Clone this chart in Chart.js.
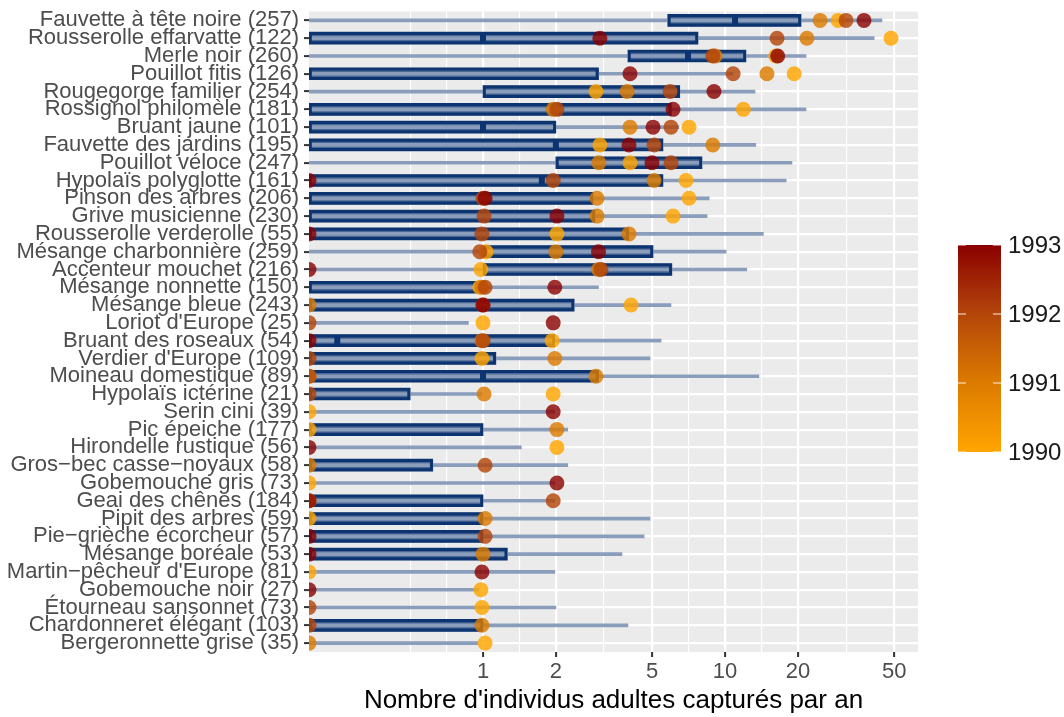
<!DOCTYPE html>
<html>
<head>
<meta charset="utf-8">
<script src="https://cdn.jsdelivr.net/npm/chart.js@4/dist/chart.umd.min.js"></script>
<style>
  html, body { margin: 0; padding: 0; background: #ffffff; }
  #chart { display: block; }
</style>
</head>
<body>
<canvas id="chart" width="1064" height="717"></canvas>
<script>
// Species (top to bottom) with number of captures
const species = [
    'Fauvette à tête noire (257)', 'Rousserolle effarvatte (122)', 'Merle noir (260)',
    'Pouillot fitis (126)', 'Rougegorge familier (254)', 'Rossignol philomèle (181)',
    'Bruant jaune (101)', 'Fauvette des jardins (195)', 'Pouillot véloce (247)',
    'Hypolaïs polyglotte (161)', 'Pinson des arbres (206)', 'Grive musicienne (230)',
    'Rousserolle verderolle (55)', 'Mésange charbonnière (259)', 'Accenteur mouchet (216)',
    'Mésange nonnette (150)', 'Mésange bleue (243)', "Loriot d'Europe (25)",
    'Bruant des roseaux (54)', "Verdier d'Europe (109)", 'Moineau domestique (89)',
    'Hypolaïs ictérine (21)', 'Serin cini (39)', 'Pic épeiche (177)',
    'Hirondelle rustique (56)', 'Gros\u2212bec casse\u2212noyaux (58)', 'Gobemouche gris (73)',
    'Geai des chênes (184)', 'Pipit des arbres (59)', 'Pie\u2212grièche écorcheur (57)',
    'Mésange boréale (53)', "Martin\u2212pêcheur d'Europe (81)", 'Gobemouche noir (27)',
    'Étourneau sansonnet (73)', 'Chardonneret élégant (103)', 'Bergeronnette grise (35)'
];

// range line (from 0 to max), box (lo..hi), median; 0 = drawn at the left edge
const lineMax = [44.5, 41.3, 21.6, 10.8, 13.3, 21.6, 6.45, 13.4, 18.9, 17.9, 8.6, 8.43,
    14.4, 10.1, 12.3, 3.0, 5.98, 0.87, 5.44, 4.9, 13.8, 0.99, 1.98, 2.24,
    1.44, 2.24, 1.98, 1.98, 4.9, 4.63, 3.75, 1.98, 0.96, 2.0, 3.97, 0.95];
const boxLo = [5.8, 0, 3.97, 0, 1, 0, 0, 0, 2, 0, 0, 0,
    0, 1, 1, 0, 0, null, 0, 0, 0, 0, null, 0,
    null, 0, null, 0, 0, 0, 0, null, null, null, 0, null];
const boxHi = [20.6, 7.73, 12.2, 3.0, 6.5, 6.0, 2.0, 5.54, 8.03, 5.54, 2.85, 2.9,
    4.0, 5.04, 6.03, 0.99, 2.38, null, 1.98, 1.13, 3.0, 0.5, null, 1.0,
    null, 0.62, null, 1.0, 1.0, 1.0, 1.26, null, null, null, 1.0, null];
const medians = [11.0, 1.0, 7.03, null, null, null, 1.0, 2.0, null, 1.75, null, null,
    null, null, null, null, null, null, 0.25, null, 1.0, null, null, null,
    null, null, null, null, null, null, null, null, null, null, null, null];

// yearly counts
const v1990 = [29.3, 48.5, 16.2, 19.3, 2.93, 11.9, 7.1, 3.04, 4.05, 6.9, 7.1, 6.1,
    2.02, 1.03, 0.98, 0.97, 4.09, 1.0, 1.93, 0.99, 0, 1.95, 0, 0,
    2.02, null, 0, 0, 0, null, null, 0, 0.98, 0.99, null, 1.02];
const v1991 = [24.7, 21.8, 9.1, 14.9, 3.94, 1.95, 4.05, 8.9, 3.01, 5.09, 2.96, 2.96,
    4.01, 2.0, 3.0, 0.99, 0, null, 0.99, 1.98, 2.93, 1.01, null, 2.02,
    null, 0, null, null, 1.02, null, 1.0, null, null, null, 0.99, 0];
const v1992 = [31.6, 16.4, 8.9, 10.8, 5.93, 2.02, 5.98, 5.09, 5.98, 1.95, 1.0, 1.01,
    0.99, 0.97, 3.07, 1.02, 1.0, 0, 1.0, 0, 0, 0, null, null,
    null, 1.02, null, 1.95, null, 1.02, null, null, null, 0, 0, null];
const v1993 = [37.5, 3.04, 16.5, 4.05, 9.0, 6.1, 5.04, 4.01, 4.99, 0, 1.02, 2.02,
    0, 3.0, 0, 1.98, 1.0, 1.95, 0, null, null, null, 1.95, null,
    0, null, 2.02, 0, null, 0, 0, 0.99, 0, null, null, null];

const years = [1990, 1991, 1992, 1993];
const yearColors = ['#FFA500', '#DC7B00', '#B4460A', '#8B0000'];
const yearAlpha = ['rgba(255,165,0,0.82)', 'rgba(220,123,0,0.82)', 'rgba(180,70,10,0.82)', 'rgba(139,0,0,0.8)'];

const xMajor = [1, 2, 5, 10, 20, 50];
const xMin = 0.191, xMax = 62.7;

const FONT = "'Liberation Sans', Arial, Helvetica, sans-serif";

function atEdge(v) { return v === 0 ? xMin : v; }

function points(values) {
    const out = [];
    values.forEach(function(v, i) {
        if (v !== null) out.push({ x: atEdge(v), y: species[i] });
    });
    return out;
}

// minor grid: midpoints (in log space) between majors, plus one step below
const xGrid = [0.5].concat(xMajor);
const xMinor = [0.5];
for (let i = 0; i < xGrid.length - 1; i++) xMinor.push(Math.sqrt(xGrid[i] * xGrid[i + 1]));
const allXTicks = xMinor.concat(xMajor).sort(function(a, b) { return a - b; });
function isMajor(v) { return xMajor.some(function(m) { return Math.abs(m - v) < 1e-9; }); }

const boxData = boxHi.map(function(h, i) { return h === null ? null : [atEdge(boxLo[i]), h]; });
const lineData = lineMax.map(function(m) { return [xMin, m]; });

const datasets = [];
// yearly points, 1993 on top
years.slice().reverse().forEach(function(yr, k) {
    const idx = years.indexOf(yr);
    const vals = [v1990, v1991, v1992, v1993][idx];
    datasets.push({
        type: 'line',
        label: String(yr),
        data: points(vals),
        showLine: false,
        pointRadius: 7.5,
        pointHoverRadius: 7.5,
        pointBorderWidth: 0,
        pointBackgroundColor: yearAlpha[idx],
        order: 1 + k
    });
});
datasets.push({
    type: 'line',
    label: 'median',
    data: points(medians),
    showLine: false,
    pointStyle: 'line',
    pointRotation: 90,
    pointRadius: 5.5,
    pointBorderWidth: 6,
    pointBorderColor: '#0B3470',
    order: 6
});
datasets.push({
    type: 'bar',
    label: 'box border',
    data: boxData,
    backgroundColor: 'rgba(0,0,0,0)',
    borderColor: '#0B3470',
    borderWidth: 2.5,
    borderSkipped: false,
    barThickness: 12,
    grouped: false,
    order: 7
});
datasets.push({
    type: 'bar',
    label: 'range',
    data: lineData,
    backgroundColor: '#8A9DBB',
    borderWidth: 0,
    barThickness: 3,
    grouped: false,
    order: 8
});
datasets.push({
    type: 'bar',
    label: 'box',
    data: boxData,
    backgroundColor: '#4A6795',
    borderWidth: 0,
    barThickness: 12,
    grouped: false,
    order: 9
});

const panelPlugin = {
    id: 'panel',
    beforeDraw: function(chart) {
        const a = chart.chartArea, ctx = chart.ctx;
        ctx.save();
        ctx.fillStyle = '#EBEBEB';
        ctx.fillRect(a.left, a.top, a.right - a.left, a.bottom - a.top);
        ctx.restore();
    },
    afterDraw: function(chart) {
        // colour bar legend
        const ctx = chart.ctx;
        const x0 = 958, w = 43, top = 245, bottom = 452;
        const g = ctx.createLinearGradient(0, bottom, 0, top);
        yearColors.forEach(function(c, i) { g.addColorStop(i / (yearColors.length - 1), c); });
        ctx.save();
        ctx.fillStyle = g;
        ctx.fillRect(x0, top, w, bottom - top);
        ctx.strokeStyle = 'rgba(255,255,255,0.9)';
        ctx.lineWidth = 1;
        ctx.font = '24px ' + FONT;
        ctx.fillStyle = '#1A1A1A';
        ctx.textBaseline = 'middle';
        ctx.textAlign = 'left';
        years.forEach(function(yr, i) {
            const y = bottom - (bottom - top) * i / (years.length - 1);
            ctx.beginPath();
            ctx.moveTo(x0, y); ctx.lineTo(x0 + 8, y);
            ctx.moveTo(x0 + w - 8, y); ctx.lineTo(x0 + w, y);
            ctx.stroke();
            ctx.fillText(String(yr), 1008, y + 1);
        });
        ctx.restore();
    }
};

new Chart(document.getElementById('chart'), {
    type: 'bar',
    data: { labels: species, datasets: datasets },
    plugins: [panelPlugin],
    options: {
        responsive: false,
        animation: false,
        indexAxis: 'y',
        layout: { padding: { top: 8, right: 146, left: 0, bottom: 0 } },
        plugins: { legend: { display: false }, tooltip: { enabled: false } },
        scales: {
            x: {
                type: 'logarithmic',
                min: xMin,
                max: xMax,
                afterBuildTicks: function(scale) {
                    scale.ticks = allXTicks.map(function(v) { return { value: v }; });
                },
                afterFit: function(scale) {
                    scale.height = 65;
                    scale.paddingLeft = 0;
                    scale.paddingRight = 0;
                },
                border: { display: false },
                grid: {
                    color: '#FFFFFF',
                    lineWidth: function(ctx) { return ctx.tick && isMajor(ctx.tick.value) ? 2.2 : 1.1; },
                    tickColor: function(ctx) { return ctx.tick && isMajor(ctx.tick.value) ? '#333333' : 'rgba(0,0,0,0)'; },
                    tickLength: 5,
                    tickWidth: 2
                },
                ticks: {
                    autoSkip: false,
                    maxRotation: 0,
                    padding: 2,
                    color: '#4D4D4D',
                    font: { family: FONT, size: 22 },
                    callback: function(value) { return isMajor(value) ? String(value) : ''; }
                },
                title: {
                    display: true,
                    text: "Nombre d'individus adultes capturés par an",
                    color: '#000000',
                    font: { family: FONT, size: 26 },
                    padding: { top: 0, bottom: 1 }
                }
            },
            y: {
                type: 'category',
                offset: true,
                afterFit: function(scale) {
                    scale.width = 309;
                    scale.paddingTop = 0;
                    scale.paddingBottom = 0;
                },
                border: { display: false },
                grid: {
                    offset: false,
                    color: '#FFFFFF',
                    lineWidth: 2.2,
                    tickColor: '#333333',
                    tickLength: 5,
                    tickWidth: 2
                },
                ticks: {
                    autoSkip: false,
                    padding: 5,
                    color: '#4D4D4D',
                    font: { family: FONT, size: 22 }
                }
            }
        }
    }
});
</script>
</body>
</html>
